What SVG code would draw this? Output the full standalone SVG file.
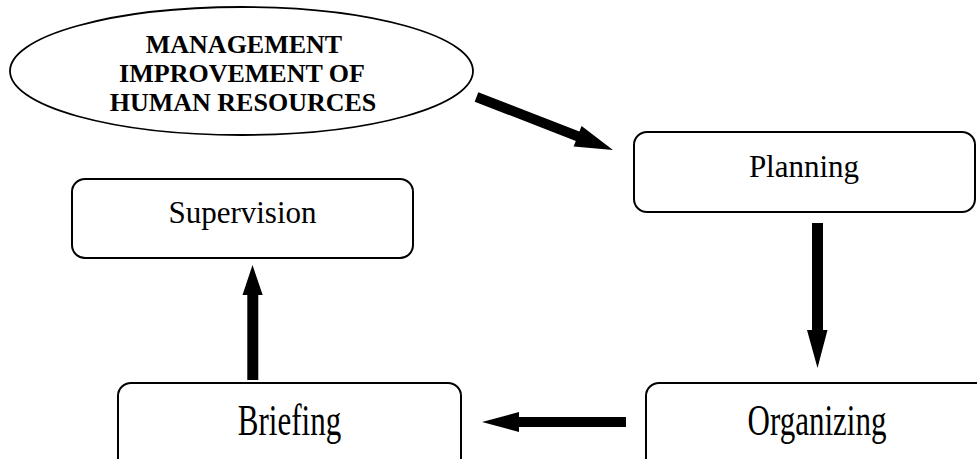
<svg xmlns="http://www.w3.org/2000/svg" width="977" height="459" viewBox="0 0 977 459">
<style>
.box{fill:#fff;stroke:#000;stroke-width:2}
.lbl{font-family:"Liberation Serif","Times New Roman",serif;font-size:31px;fill:#000;text-anchor:middle}
.ttl{font-family:"Liberation Serif","Times New Roman",serif;font-size:26px;font-weight:bold;fill:#000;text-anchor:middle}
.arr{fill:#000;stroke:none}
</style>
<rect width="977" height="459" fill="#fff"/>
<g id="connectors">
<polygon class="arr" points="478.3,92.3 579.4,131.5 581.6,126 613,150 573.6,146.5 575.8,140.9 474.7,101.7"/>
<polygon class="arr" points="812,223 823,223 823,330 827.5,330 817.5,368 807,330 812,330"/>
<polygon class="arr" points="626,417 626,427 519,427 519,432 482,422 519,412 519,417"/>
<polygon class="arr" points="247.3,380 258.3,380 258.3,295 262.7,295 252.5,265 242.5,295 247.3,295"/>
</g>
<g id="hr">
<ellipse cx="241.5" cy="71" rx="231.5" ry="64" fill="#fff" stroke="#000" stroke-width="1.8"/>
<text class="ttl" x="244" y="53">MANAGEMENT</text>
<text class="ttl" x="242" y="82">IMPROVEMENT OF</text>
<text class="ttl" x="243" y="111">HUMAN RESOURCES</text>
</g>
<g id="planning">
<rect class="box" x="634" y="132" width="341" height="80" rx="13"/>
<text class="lbl" x="804" y="177">Planning</text>
</g>
<g id="supervision">
<rect class="box" x="72" y="179" width="341" height="79" rx="13"/>
<text class="lbl" x="242.5" y="223">Supervision</text>
</g>
<g id="briefing">
<rect class="box" x="118" y="383" width="343" height="100" rx="13"/>
<text class="lbl" transform="translate(289.5,435) scale(1,1.42)">Briefing</text>
</g>
<g id="organizing">
<rect class="box" x="646" y="383" width="343" height="100" rx="13"/>
<text class="lbl" transform="translate(817,435) scale(1,1.42)">Organizing</text>
</g>
</svg>
